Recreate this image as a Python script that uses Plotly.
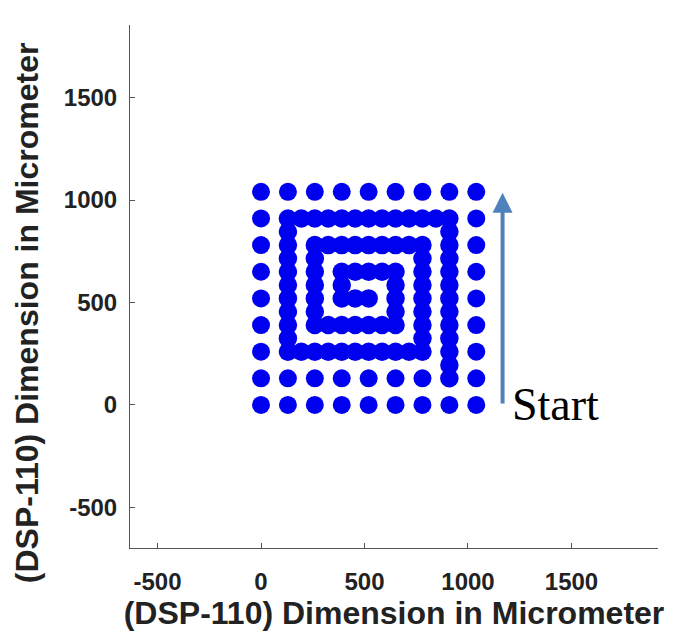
import plotly.graph_objects as go

# Sparse laser spots (µm)
sparse_x = [0, 130, 260, 390, 520, 650, 780, 910, 1040,
            0, 130, 260, 390, 520, 650, 780, 1040,
            0, 130, 260, 390, 520, 650, 780, 910, 1040,
            0, 0, 0, 0, 0, 0,
            1040, 1040, 1040, 1040, 1040, 1040]
sparse_y = [0, 0, 0, 0, 0, 0, 0, 0, 0,
            130, 130, 130, 130, 130, 130, 130, 130,
            1040, 1040, 1040, 1040, 1040, 1040, 1040, 1040, 1040,
            260, 390, 520, 650, 780, 910,
            260, 390, 520, 650, 780, 910]

# Dense spiral scan spots (µm)
spiral_x = ([910] * 13 +
            [845, 780, 715, 650, 585, 520, 455, 390, 325, 260, 195, 130] +
            [130] * 10 +
            [195, 260, 325, 390, 455, 520, 585, 650, 715, 780] +
            [780] * 8 +
            [715, 650, 585, 520, 455, 390, 325, 260] +
            [260] * 6 +
            [325, 390, 455, 520, 585, 650] +
            [650] * 4 +
            [585, 520, 455, 390] +
            [390] * 2 +
            [455, 520])
spiral_y = ([130, 195, 260, 325, 390, 455, 520, 585, 650, 715, 780, 845, 910] +
            [910] * 12 +
            [845, 780, 715, 650, 585, 520, 455, 390, 325, 260] +
            [260] * 10 +
            [325, 390, 455, 520, 585, 650, 715, 780] +
            [780] * 8 +
            [715, 650, 585, 520, 455, 390] +
            [390] * 6 +
            [455, 520, 585, 650] +
            [650] * 4 +
            [585, 520] +
            [520] * 2)

tick_vals = [-500, 0, 500, 1000, 1500]
tick_text = ["-500", "0", "500", "1000", "1500"]
axis_title = "(DSP-110) Dimension in Micrometer"
arrow_x = 1167
arrow_y0 = 0
arrow_y1 = 1036

fig = go.Figure()
fig.add_trace(go.Scatter(x=sparse_x, y=sparse_y, mode="markers",
                         marker=dict(size=18, color="#0000F0"), showlegend=False))
fig.add_trace(go.Scatter(x=spiral_x, y=spiral_y, mode="markers",
                         marker=dict(size=18.5, color="#0000F0"), showlegend=False))

fig.add_annotation(x=arrow_x, y=arrow_y1, ax=arrow_x, ay=arrow_y0,
                   xref="x", yref="y", axref="x", ayref="y",
                   showarrow=True, arrowhead=2, arrowsize=1, arrowwidth=4,
                   arrowcolor="#4F81BD", text="")
fig.add_annotation(x=1205, y=2, xref="x", yref="y", text="Start",
                   showarrow=False, xanchor="left", yanchor="middle",
                   font=dict(family="Liberation Serif", size=46, color="#000000"))

fig.add_annotation(x=-0.196, y=0.45, xref="paper", yref="paper", text="<b>" + axis_title + "</b>",
                   showarrow=False, textangle=-90, xanchor="center", yanchor="middle",
                   font=dict(family="Liberation Sans", size=32, color="#222222"))

axis_common = dict(
    tickvals=tick_vals, ticktext=tick_text,
    showgrid=False, zeroline=False,
    showline=True, linecolor="#555555", linewidth=1,
    ticks="inside", ticklen=5, tickcolor="#555555",
    tickfont=dict(family="Liberation Sans", size=24, color="#222222", weight="bold"),
)

fig.update_xaxes(range=[-633, 1918], ticklabelstandoff=12,
                 title=dict(text="<b>" + axis_title + "</b>", standoff=6,
                            font=dict(family="Liberation Sans", size=32, color="#222222")),
                 **axis_common)
fig.update_yaxes(range=[-698, 1854], ticklabelstandoff=7, **axis_common)

fig.update_layout(width=674, height=643, margin=dict(l=130, r=16, t=25, b=95),
                  paper_bgcolor="white", plot_bgcolor="white", showlegend=False)

fig.write_html("out.html")
